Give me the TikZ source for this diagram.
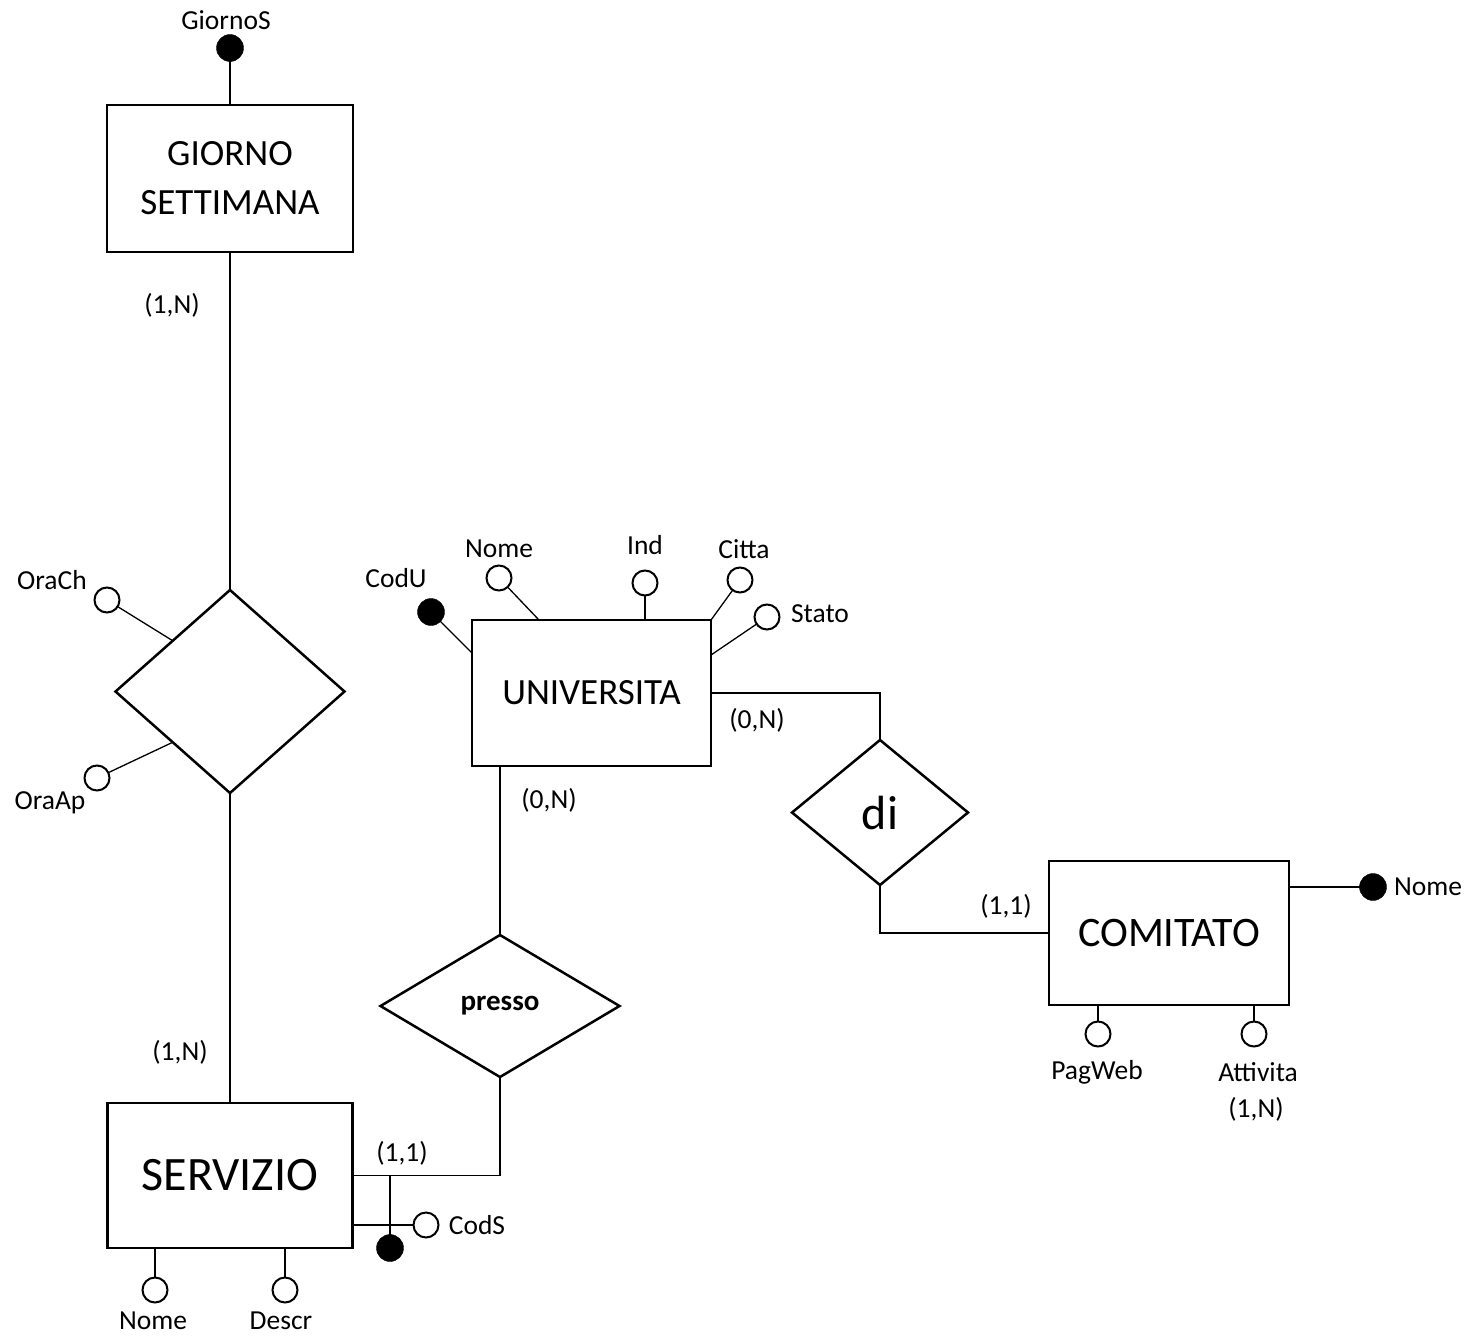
\documentclass[tikz,border=0pt]{standalone}
\usepackage{fontspec}
\setmainfont{Carlito}
\usetikzlibrary{shapes.geometric,calc}
\begin{document}
\begin{tikzpicture}[x=1pt,y=-1pt,
 entity/.style={draw, line width=2.5pt, rectangle, inner sep=0pt, outer sep=0pt, align=center},
 rel/.style={draw, line width=2.5pt, diamond, inner sep=0pt, outer sep=0pt},
 attr/.style={draw, circle, line width=2pt, minimum size=25pt, inner sep=0pt, outer sep=0pt, fill=white},
 keyattr/.style={draw, circle, fill=black, minimum size=27pt, inner sep=0pt, outer sep=0pt},
 lbl/.style={font=\fontsize{27.5}{32}\selectfont, inner sep=0pt},
 conn/.style={line width=1.3pt},
]
\fill[white] (0,0) rectangle (1471,1335);
\useasboundingbox (0,0) rectangle (1471,1335);

% GIORNO SETTIMANA
\node[entity, minimum width=246pt, minimum height=147pt, font=\fontsize{37}{49}\selectfont] (giorno) at (230,178.5) {GIORNO\\SETTIMANA};
\node[keyattr] (gsk) at (230,48) {};
\node[lbl] (gsl) at (226,20) {GiornoS};
\draw[conn] (gsk) -- (giorno.north);
\node[lbl] (c1) at (172,305) {(1,N)};

% relationship orario
\node[rel, minimum width=229pt, minimum height=203pt] (orario) at (230,691.5) {};
\draw[conn] (giorno.south) -- (orario.north);
\node[attr] (orach) at (107,600) {};
\node[lbl] (orachl) at (52,580) {OraCh};
\draw[conn] (orach) -- (orario.north west);
\node[attr] (oraap) at (97,778) {};
\node[lbl] (oraapl) at (50,803) {OraAp};
\draw[conn] (oraap) -- (orario.south west);

% SERVIZIO
\node[entity, minimum width=245pt, minimum height=145pt, font=\fontsize{48}{56}\selectfont] (serv) at (230,1175.5) {SERVIZIO};
\draw[conn] (orario.south) -- (serv.north);
\node[lbl] (c2) at (180,1052) {(1,N)};
\node[attr] (snome) at (155,1290) {};
\node[lbl] (snomel) at (153,1321) {Nome};
\draw[conn] (snome) -- (snome |- serv.south);
\node[attr] (sdescr) at (285,1290) {};
\node[lbl] (sdescrl) at (281,1321) {Descr};
\draw[conn] (sdescr) -- (sdescr |- serv.south);

% presso
\node[rel, minimum width=239pt, minimum height=142pt, font=\bfseries\fontsize{29}{34}\selectfont] (presso) at (500,1006) {presso};
\draw[conn] (serv.east) -| (presso.south);
\node[lbl] (c3) at (402,1153) {(1,1)};
\node[keyattr] (codsk) at (390,1248) {};
\draw[conn] (codsk) -- (codsk |- serv.east);
\node[attr] (cods) at (426,1225) {};
\draw[conn] (cods) -- (cods -| serv.east);
\node[lbl] (codsl) at (477,1225) {CodS};

% UNIVERSITA
\node[entity, minimum width=239pt, minimum height=146pt, font=\fontsize{37}{44}\selectfont] (univ) at (591.5,693) {UNIVERSITA};
\draw[conn] (presso.north) -- (presso.north |- univ.south);
\node[lbl] (c4) at (549,800) {(0,N)};
\node[keyattr] (codu) at (431,612) {};
\node[lbl] (codul) at (396,578) {CodU};
\draw[conn] (codu) -- ($(univ.north west)+(0,33)$);
\node[attr] (unome) at (499,578) {};
\node[lbl] (unomel) at (499,549) {Nome};
\draw[conn] (unome) -- ($(univ.north west)+(67,0)$);
\node[attr] (uind) at (645,583) {};
\node[lbl] (uindl) at (645,545) {Ind};
\draw[conn] (uind) -- (uind |- univ.north);
\node[attr] (ucitta) at (740,580) {};
\node[lbl] (ucittal) at (744,549) {Citta};
\draw[conn] (ucitta) -- (univ.north east);
\node[attr] (ustato) at (767,617) {};
\node[lbl] (ustatol) at (820,614) {Stato};
\draw[conn] (ustato) -- ($(univ.north east)+(0,35)$);

% di
\node[rel, minimum width=176pt, minimum height=145pt, font=\fontsize{48}{56}\selectfont] (di) at (880,812.5) {di};
\draw[conn] (univ.east) -| (di.north);
\node[lbl] (c5) at (757,720) {(0,N)};

% COMITATO
\node[entity, minimum width=240pt, minimum height=144pt, font=\fontsize{42}{50}\selectfont] (com) at (1169,933) {COMITATO};
\draw[conn] (di.south) |- (com.west);
\node[lbl] (c6) at (1006,906) {(1,1)};
\node[keyattr] (cnome) at (1373,887) {};
\node[lbl] (cnomel) at (1428,887) {Nome};
\draw[conn] (cnome) -- (cnome -| com.east);
\node[attr] (cpag) at (1098,1034) {};
\node[lbl] (cpagl) at (1097,1072) {PagWeb};
\draw[conn] (cpag) -- (cpag |- com.south);
\node[attr] (catt) at (1254,1034) {};
\node[lbl] (cattl) at (1258,1072) {Attivita};
\node[lbl] (c7) at (1256,1109) {(1,N)};
\draw[conn] (catt) -- (catt |- com.south);
\end{tikzpicture}
\end{document}
